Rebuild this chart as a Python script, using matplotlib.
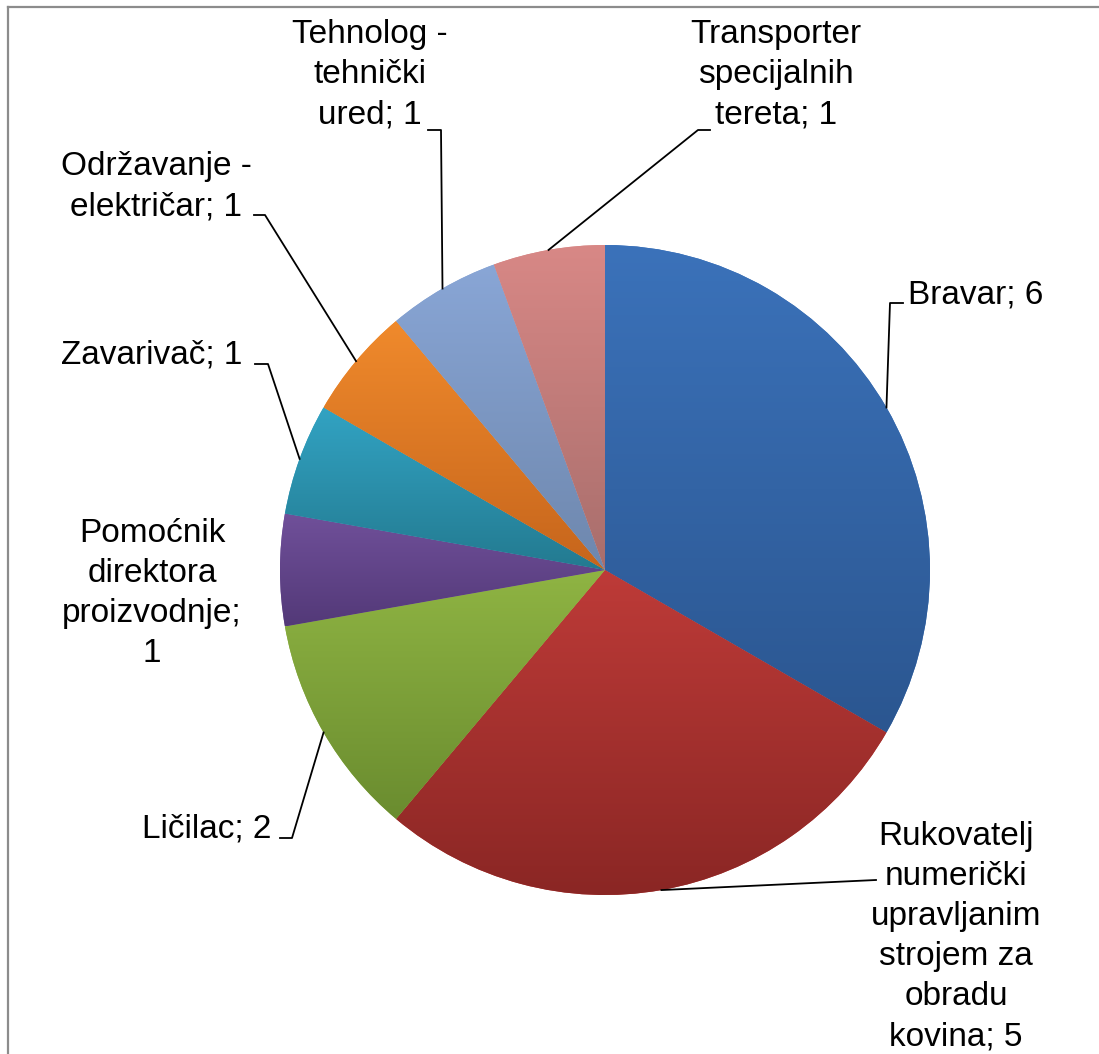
import numpy as np
import matplotlib.pyplot as plt
from matplotlib.colors import to_rgb

plt.rcParams['font.family'] = ['Liberation Sans', 'DejaVu Sans']

# podaci: zanimanja i broj zaposlenih
zanimanja = ['Bravar', 'Rukovatelj numerički upravljanim strojem za obradu kovina',
             'Ličilac', 'Pomoćnik direktora proizvodnje', 'Zavarivač',
             'Održavanje - električar', 'Tehnolog - tehnički ured',
             'Transporter specijalnih tereta']
broj = [6, 5, 2, 1, 1, 1, 1, 1]
oznake = ['Bravar; 6',
          'Rukovatelj\nnumerički\nupravljanim\nstrojem za\nobradu\nkovina; 5',
          'Ličilac; 2',
          'Pomoćnik\ndirektora\nproizvodnje;\n1',
          'Zavarivač; 1',
          'Održavanje -\nelektričar; 1',
          'Tehnolog -\ntehnički\nured; 1',
          'Transporter\nspecijalnih\ntereta; 1']
boje_gore = ['#3B72BA', '#BE3B38', '#8FB443', '#70509A', '#32A3C3', '#F08A2C', '#89A6D6', '#D88886']
boje_dolje = ['#2B5690', '#8A2624', '#6A8C2F', '#533978', '#237A90', '#C6651C', '#6E87AD', '#A86E6C']

W, H = 1099, 1054
cx, cy, R = 605, 570, 325

fig = plt.figure(figsize=(W / 100, H / 100), dpi=100)
ax = fig.add_axes([0, 0, 1, 1])

# y os je okrenuta (pikseli odozgo), pa kut -90 znaci "gore", a counterclock=True ide u smjeru kazaljke
wedges, _ = ax.pie(broj, startangle=-90, counterclock=True, center=(cx, cy), radius=R,
                   colors=boje_gore, wedgeprops=dict(linewidth=0))
ax.set_xlim(0, W)
ax.set_ylim(H, 0)
ax.axis('off')

# gradijent (svjetlije gore, tamnije dolje) za svaki isjecak
for w, c1, c2 in zip(wedges, boje_gore, boje_dolje):
    v = w.get_path().vertices
    x0, x1 = v[:, 0].min(), v[:, 0].max()
    y0, y1 = v[:, 1].min(), v[:, 1].max()
    t = np.linspace(0, 1, 256)[:, None]
    grad = (1 - t) * np.array(to_rgb(c1)) + t * np.array(to_rgb(c2))
    im = ax.imshow(grad[:, None, :], extent=(x0, x1, y1, y0), origin='upper',
                   aspect='auto', interpolation='bilinear', zorder=w.get_zorder() + 0.1)
    im.set_clip_path(w)
ax.set_xlim(0, W)
ax.set_ylim(H, 0)

# pozicije oznaka: (x, baseline prvog reda, poravnanje)
poz_oznaka = [(908, 304, 'left'), (956, 845, 'center'), (207, 837, 'center'),
              (152, 542, 'center'), (152, 364, 'center'), (156, 175, 'center'),
              (370, 43, 'center'), (776, 43, 'center')]
# linije vodilice: tocke od ruba pite prema oznaci
vodilice = [[(890, 303), (903, 303)], [(876, 880)], [(292, 838), (280, 838)], None,
            [(268, 364), (255, 364)], [(265, 215), (254, 215)],
            [(441, 130), (428, 130)], [(698, 130), (710, 130)]]

ukupno = sum(broj)
kum = np.cumsum([0] + broj)
for i, tekst in enumerate(oznake):
    x, y, ha = poz_oznaka[i]
    for j, red in enumerate(tekst.split('\n')):
        ax.text(x, y + j * 40, red, ha=ha, va='baseline', fontsize=24, color='black')
    if vodilice[i] is not None:
        f = (kum[i] + broj[i] / 2) / ukupno
        px = cx + R * np.sin(2 * np.pi * f)
        py = cy - R * np.cos(2 * np.pi * f)
        xs = [px] + [p[0] for p in vodilice[i]]
        ys = [py] + [p[1] for p in vodilice[i]]
        ax.plot(xs, ys, color='black', lw=1.3, zorder=5)

# sivi okvir grafikona
ax.plot([8, 8], [H + 5, 7], color='#8c8c8c', lw=1.6, clip_on=False)
ax.plot([8, W + 5], [7, 7], color='#8c8c8c', lw=1.6, clip_on=False)

fig.savefig('out.png', dpi=100, facecolor='white')
